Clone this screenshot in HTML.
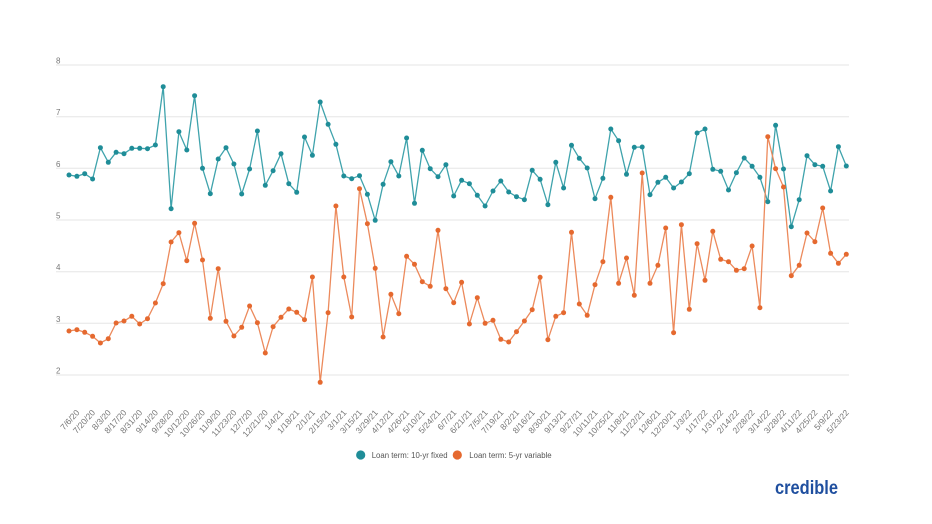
<!DOCTYPE html>
<html>
<head>
<meta charset="utf-8">
<style>
html,body{margin:0;padding:0;background:#fff;}
svg{display:block;}
</style>
</head>
<body>
<svg width="932" height="524" viewBox="0 0 932 524" xmlns="http://www.w3.org/2000/svg" font-family="Liberation Sans, sans-serif">
<defs>
<marker id="mt" viewBox="0 0 6 6" refX="3" refY="3" markerWidth="6" markerHeight="6" markerUnits="userSpaceOnUse">
<circle cx="3" cy="3" r="2.5" fill="#1f8d98"/>
</marker>
<marker id="mo" viewBox="0 0 6 6" refX="3" refY="3" markerWidth="6" markerHeight="6" markerUnits="userSpaceOnUse">
<circle cx="3" cy="3" r="2.5" fill="#e5692f"/>
</marker>
</defs>
<rect width="932" height="524" fill="#fff"/>
<!-- gridlines -->
<g stroke="#e6e6e6" stroke-width="1">
<line x1="56" y1="65" x2="849" y2="65"/>
<line x1="56" y1="116.7" x2="849" y2="116.7"/>
<line x1="56" y1="168.3" x2="849" y2="168.3"/>
<line x1="56" y1="220" x2="849" y2="220"/>
<line x1="56" y1="271.7" x2="849" y2="271.7"/>
<line x1="56" y1="323.3" x2="849" y2="323.3"/>
<line x1="56" y1="375" x2="849" y2="375"/>
</g>
<g font-size="8" fill="#777">
<text x="56" y="63.5">8</text>
<text x="56" y="115.2">7</text>
<text x="56" y="166.8">6</text>
<text x="56" y="218.5">5</text>
<text x="56" y="270.2">4</text>
<text x="56" y="321.8">3</text>
<text x="56" y="373.5">2</text>
</g>
<!-- teal series -->
<polyline fill="none" stroke="#3fa3ac" stroke-width="1.3" stroke-linejoin="round" marker-start="url(#mt)" marker-mid="url(#mt)" marker-end="url(#mt)" points="
69.0,175 76.9,176.3 84.7,173.7 92.6,179 100.4,147.7 108.3,162.3 116.1,152.3 124.0,153.7 131.8,148.3 139.7,148.3
147.5,148.7 155.4,145 163.2,86.7 171.1,208.7 178.9,131.7 186.8,150 194.6,95.7 202.5,168.3 210.3,193.7 218.2,159
226.0,147.7 233.9,164 241.7,194 249.6,169 257.4,131 265.3,185.3 273.1,170.7 281.0,153.7 288.8,183.7 296.7,192.3
304.5,137 312.4,155.3 320.2,102 328.1,124.3 335.9,144.3 343.8,176 351.7,178.7 359.5,175.7 367.4,194.3 375.2,220.3
383.1,184.3 390.9,161.7 398.8,176 406.6,138 414.5,203.3 422.3,150.3 430.2,168.7 438.0,176.7 445.9,164.7 453.7,196
461.6,180.3 469.4,183.7 477.3,195.3 485.1,206 493.0,191 500.8,181 508.7,192 516.5,196.7 524.4,199.7 532.2,170.3
540.1,179.3 547.9,204.7 555.8,162.3 563.6,188 571.5,145.3 579.3,158.3 587.2,168 595.0,198.7 602.9,178.3 610.8,129
618.6,140.7 626.5,174.3 634.3,147.3 642.2,147 650.0,194.7 657.9,182.3 665.7,177.3 673.6,188 681.4,182 689.3,173.7
697.1,133 705.0,129 712.8,169.3 720.7,171.3 728.5,190 736.4,172.7 744.2,158 752.1,166.3 759.9,177.3 767.8,201.7
775.6,125.3 783.5,169 791.3,226.7 799.2,199.7 807.0,155.7 814.9,164.7 822.7,166.3 830.6,191 838.4,146.7 846.3,166"/>
<!-- orange series -->
<polyline fill="none" stroke="#ec8a5c" stroke-width="1.3" stroke-linejoin="round" marker-start="url(#mo)" marker-mid="url(#mo)" marker-end="url(#mo)" points="
69.0,331 76.9,329.7 84.7,332.3 92.6,336.3 100.4,343 108.3,338.7 116.1,323 124.0,321 131.8,316.3 139.7,324
147.5,318.7 155.4,303 163.2,283.7 171.1,242 178.9,232.7 186.8,260.7 194.6,223.3 202.5,260 210.3,318.3 218.2,268.7
226.0,321.3 233.9,336 241.7,327.3 249.6,306 257.4,322.7 265.3,353 273.1,326.7 281.0,317.3 288.8,309 296.7,312.3
304.5,319.7 312.4,277 320.2,382.3 328.1,312.7 335.9,206 343.8,277 351.7,317 359.5,188.7 367.4,223.7 375.2,268.3
383.1,337 390.9,294.3 398.8,313.7 406.6,256.3 414.5,264.3 422.3,281.7 430.2,286.3 438.0,230.3 445.9,288.7 453.7,302.7
461.6,282.3 469.4,324 477.3,297.7 485.1,323.3 493.0,320.3 500.8,339.3 508.7,342 516.5,331.7 524.4,321 532.2,309.7
540.1,277.3 547.9,339.7 555.8,316.3 563.6,312.7 571.5,232.3 579.3,304 587.2,315.3 595.0,284.7 602.9,261.7 610.8,197.3
618.6,283.3 626.5,258 634.3,295.3 642.2,173 650.0,283.3 657.9,265.3 665.7,228 673.6,332.7 681.4,224.7 689.3,309.3
697.1,243.7 705.0,280.3 712.8,231.3 720.7,259.3 728.5,261.7 736.4,270.3 744.2,268.7 752.1,246 759.9,307.7 767.8,136.7
775.6,168.7 783.5,187 791.3,275.7 799.2,265.3 807.0,233 814.9,241.7 822.7,208 830.6,253.3 838.4,263.3 846.3,254.3"/>
<!-- x labels -->
<g font-size="8.5" fill="#777" text-anchor="end">
<text transform="translate(80,413) rotate(-48)">7/6/20</text>
<text transform="translate(95.7,413) rotate(-48)">7/20/20</text>
<text transform="translate(111.4,413) rotate(-48)">8/3/20</text>
<text transform="translate(127.1,413) rotate(-48)">8/17/20</text>
<text transform="translate(142.8,413) rotate(-48)">8/31/20</text>
<text transform="translate(158.5,413) rotate(-48)">9/14/20</text>
<text transform="translate(174.2,413) rotate(-48)">9/28/20</text>
<text transform="translate(189.9,413) rotate(-48)">10/12/20</text>
<text transform="translate(205.6,413) rotate(-48)">10/26/20</text>
<text transform="translate(221.3,413) rotate(-48)">11/9/20</text>
<text transform="translate(237.0,413) rotate(-48)">11/23/20</text>
<text transform="translate(252.7,413) rotate(-48)">12/7/20</text>
<text transform="translate(268.4,413) rotate(-48)">12/21/20</text>
<text transform="translate(284.1,413) rotate(-48)">1/4/21</text>
<text transform="translate(299.8,413) rotate(-48)">1/18/21</text>
<text transform="translate(315.5,413) rotate(-48)">2/1/21</text>
<text transform="translate(331.3,413) rotate(-48)">2/15/21</text>
<text transform="translate(347.0,413) rotate(-48)">3/1/21</text>
<text transform="translate(362.7,413) rotate(-48)">3/15/21</text>
<text transform="translate(378.4,413) rotate(-48)">3/29/21</text>
<text transform="translate(394.1,413) rotate(-48)">4/12/21</text>
<text transform="translate(409.8,413) rotate(-48)">4/26/21</text>
<text transform="translate(425.5,413) rotate(-48)">5/10/21</text>
<text transform="translate(441.2,413) rotate(-48)">5/24/21</text>
<text transform="translate(456.9,413) rotate(-48)">6/7/21</text>
<text transform="translate(472.6,413) rotate(-48)">6/21/21</text>
<text transform="translate(488.3,413) rotate(-48)">7/5/21</text>
<text transform="translate(504.0,413) rotate(-48)">7/19/21</text>
<text transform="translate(519.7,413) rotate(-48)">8/2/21</text>
<text transform="translate(535.4,413) rotate(-48)">8/16/21</text>
<text transform="translate(551.1,413) rotate(-48)">8/30/21</text>
<text transform="translate(566.8,413) rotate(-48)">9/13/21</text>
<text transform="translate(582.5,413) rotate(-48)">9/27/21</text>
<text transform="translate(598.2,413) rotate(-48)">10/11/21</text>
<text transform="translate(613.9,413) rotate(-48)">10/25/21</text>
<text transform="translate(629.6,413) rotate(-48)">11/8/21</text>
<text transform="translate(645.3,413) rotate(-48)">11/22/21</text>
<text transform="translate(661.0,413) rotate(-48)">12/6/21</text>
<text transform="translate(676.7,413) rotate(-48)">12/20/21</text>
<text transform="translate(692.4,413) rotate(-48)">1/3/22</text>
<text transform="translate(708.1,413) rotate(-48)">1/17/22</text>
<text transform="translate(723.8,413) rotate(-48)">1/31/22</text>
<text transform="translate(739.5,413) rotate(-48)">2/14/22</text>
<text transform="translate(755.2,413) rotate(-48)">2/28/22</text>
<text transform="translate(770.9,413) rotate(-48)">3/14/22</text>
<text transform="translate(786.6,413) rotate(-48)">3/28/22</text>
<text transform="translate(802.3,413) rotate(-48)">4/11/22</text>
<text transform="translate(818.0,413) rotate(-48)">4/25/22</text>
<text transform="translate(833.7,413) rotate(-48)">5/9/22</text>
<text transform="translate(849.4,413) rotate(-48)">5/23/22</text>
</g>
<!-- legend -->
<circle cx="360.7" cy="455" r="4.6" fill="#1f8d98"/>
<text x="371.7" y="457.8" font-size="7.8" fill="#555">Loan term: 10-yr fixed</text>
<circle cx="457.3" cy="455" r="4.6" fill="#e5692f"/>
<text x="469.3" y="457.8" font-size="7.8" fill="#555">Loan term: 5-yr variable</text>
<!-- logo -->
<text x="775" y="494" font-size="19" font-weight="bold" fill="#1f4f9f" textLength="63" lengthAdjust="spacingAndGlyphs">credible</text>
</svg>
</body>
</html>
